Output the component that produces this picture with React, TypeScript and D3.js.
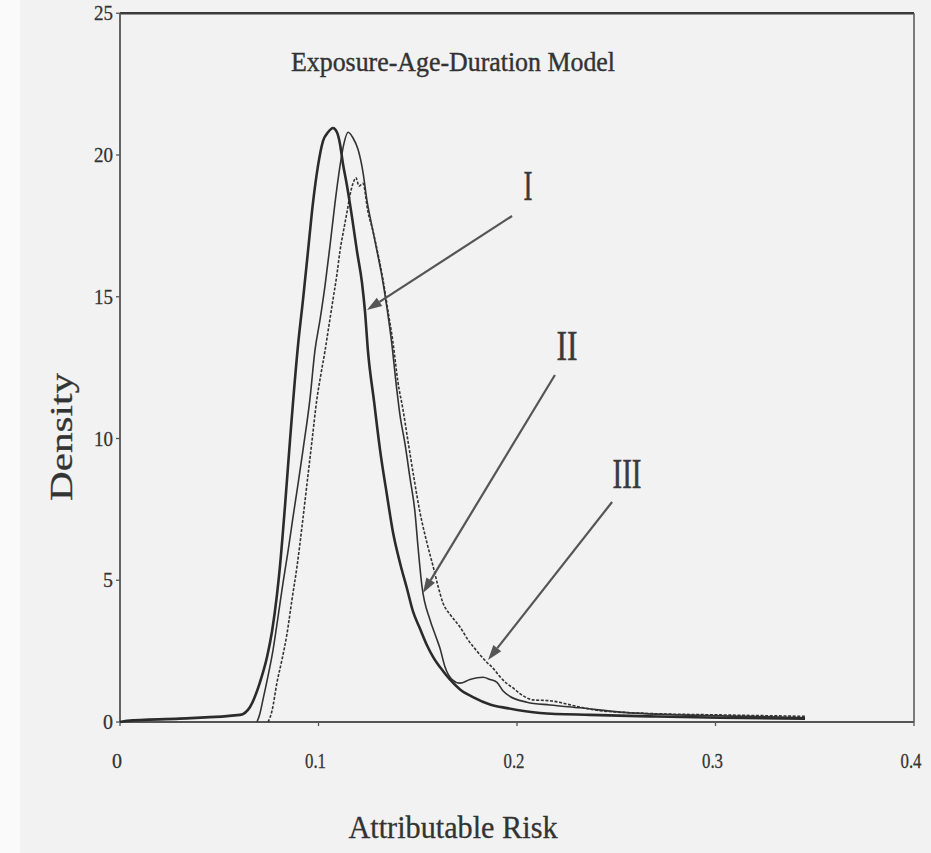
import React from "react";
import * as d3 from "d3";

// Attributable risk (x) and density (y)
const riskI = [0, 0.0035, 0.030, 0.0605, 0.0655, 0.0705, 0.0741, 0.0766, 0.0791, 0.0806, 0.0831, 0.0856, 0.0897, 0.0922, 0.0947, 0.0972, 0.0997, 0.1023, 0.1048, 0.1073, 0.1093, 0.1108, 0.1123, 0.1144, 0.1169, 0.1194, 0.1219, 0.1234, 0.1249, 0.128, 0.131, 0.1345, 0.1375, 0.1411, 0.1446, 0.1476, 0.1511, 0.1547, 0.1577, 0.1627, 0.1662, 0.1713, 0.1778, 0.1864, 0.195, 0.2116, 0.2368, 0.267, 0.3023, 0.3451];
const densI = [0, 0.04, 0.12, 0.25, 0.53, 1.4, 2.3, 3.2, 4.5, 5.5, 7.6, 9.9, 13.3, 14.9, 16.6, 18.3, 19.6, 20.5, 20.8, 20.95, 20.8, 20.4, 19.7, 18.9, 17.8, 16.6, 15.5, 14.5, 13.1, 11.3, 9.6, 8.0, 6.7, 5.6, 4.7, 3.9, 3.3, 2.7, 2.3, 1.8, 1.5, 1.15, 0.88, 0.62, 0.49, 0.32, 0.25, 0.2, 0.15, 0.12];

const riskII = [0.069, 0.0705, 0.072, 0.0745, 0.077, 0.0796, 0.0821, 0.0846, 0.0871, 0.0897, 0.0922, 0.0957, 0.0982, 0.1008, 0.1033, 0.1058, 0.1083, 0.1108, 0.1128, 0.1149, 0.1174, 0.1199, 0.1224, 0.1244, 0.1269, 0.1295, 0.132, 0.1345, 0.137, 0.139, 0.1411, 0.1436, 0.1461, 0.1486, 0.1501, 0.1521, 0.1562, 0.1592, 0.1612, 0.1637, 0.1673, 0.1713, 0.1763, 0.1829, 0.1864, 0.1899, 0.1929, 0.1965, 0.2050, 0.2166, 0.2317, 0.2519, 0.2821, 0.3174, 0.3451];
const densII = [0, 0.3, 0.78, 1.6, 2.5, 3.7, 4.9, 6.0, 7.2, 8.4, 9.6, 11.4, 13.1, 14.2, 15.4, 16.8, 18.3, 19.6, 20.4, 20.8, 20.6, 20.2, 19.4, 18.4, 17.5, 16.6, 15.7, 14.6, 13.3, 12.0, 10.8, 9.8, 8.6, 7.4, 6.2, 4.8, 3.6, 3.0, 2.6, 1.95, 1.5, 1.37, 1.5, 1.58, 1.5, 1.4, 1.1, 0.9, 0.7, 0.6, 0.5, 0.35, 0.25, 0.2, 0.15];

const riskIII = [0.0746, 0.0766, 0.0791, 0.0816, 0.0841, 0.0866, 0.0892, 0.0917, 0.0942, 0.0967, 0.0992, 0.1013, 0.1033, 0.1053, 0.1073, 0.1093, 0.1108, 0.1128, 0.1144, 0.1159, 0.1174, 0.1189, 0.1204, 0.1224, 0.1249, 0.1275, 0.13, 0.1325, 0.135, 0.1375, 0.14, 0.1426, 0.1451, 0.1481, 0.1511, 0.1547, 0.1577, 0.1602, 0.1627, 0.1662, 0.1713, 0.1753, 0.1798, 0.1849, 0.1879, 0.1914, 0.1950, 0.1980, 0.2015, 0.2081, 0.2166, 0.2302, 0.2418, 0.267, 0.3023, 0.3451];
const densIII = [0, 0.4, 1.4, 2.2, 3.1, 4.3, 5.5, 6.9, 8.4, 9.9, 11.4, 12.3, 13.1, 14.0, 14.9, 15.8, 16.6, 17.4, 18.0, 18.6, 19.0, 19.2, 18.9, 19.0, 18.0, 17.3, 16.5, 15.6, 14.5, 13.4, 12.0, 11.0, 9.9, 8.6, 7.4, 6.3, 5.5, 4.8, 4.2, 3.8, 3.35, 2.9, 2.5, 2.1, 1.9, 1.6, 1.35, 1.2, 1.0, 0.78, 0.75, 0.55, 0.4, 0.3, 0.25, 0.2];

const xTicks = [0, 0.1, 0.2, 0.3, 0.4];
const xTickLabels = ["0", "0.1", "0.2", "0.3", "0.4"];
const yTicks = [0, 5, 10, 15, 20, 25];
const yTickLabels = ["0", "5", "10", "15", "20", "25"];

const labelNames = ["I", "II", "III"];
const labelRisk = [0.2055, 0.2252, 0.2554];
const labelDens = [18.94, 13.3, 8.78];
const arrowFromRisk = [0.1975, 0.2191, 0.2479];
const arrowFromDens = [17.85, 12.24, 7.76];
const arrowToRisk = [0.1244, 0.1526, 0.1854];
const arrowToDens = [14.53, 4.55, 2.19];

const title = "Exposure-Age-Duration Model";
const xTitle = "Attributable Risk";
const yTitle = "Density";

export default function App() {
  const W = 931, H = 853;
  const x = d3.scaleLinear().domain([0, 0.4]).range([120, 914]);
  const y = d3.scaleLinear().domain([0, 25]).range([722, 13.25]);
  const line = d3
    .line<[number, number]>()
    .x((d) => x(d[0]))
    .y((d) => y(d[1]))
    .curve(d3.curveMonotoneX);
  const pI = line(riskI.map((r, i) => [r, densI[i]]) as [number, number][]) || "";
  const pII = line(riskII.map((r, i) => [r, densII[i]]) as [number, number][]) || "";
  const pIII = line(riskIII.map((r, i) => [r, densIII[i]]) as [number, number][]) || "";
  const font = "'Liberation Serif', 'DejaVu Serif', serif";
  const ink = "#2b2b2b";
  const widths = [9, 21, 29];
  const tickW = [10, 10, 19, 19, 19, 19];

  return (
    <svg
      width={W}
      height={H}
      style={{ position: "absolute", left: 0, top: 0 }}
      xmlns="http://www.w3.org/2000/svg"
    >
      <rect x={0} y={0} width={W} height={H} fill="#f2f2f2" />
      <rect x={0} y={0} width={20} height={H} fill="#fafafa" />
      {/* frame */}
      <line x1={x(0)} x2={x(0.4)} y1={y(25)} y2={y(25)} stroke="#3a3a3a" strokeWidth={2.4} />
      <line x1={x(0.4)} x2={x(0.4)} y1={y(25)} y2={y(0)} stroke="#555" strokeWidth={1.5} />
      <line x1={x(0)} x2={x(0)} y1={y(25)} y2={y(0)} stroke="#555" strokeWidth={1.8} />
      <line x1={x(0)} x2={x(0.4)} y1={y(0)} y2={y(0)} stroke="#555" strokeWidth={1.8} />
      {/* y ticks */}
      {yTicks.map((t, i) => (
        <g key={"y" + i}>
          <line x1={x(0) - 4} x2={x(0)} y1={y(t)} y2={y(t)} stroke="#555" strokeWidth={1.3} />
          <text
            x={x(0) - 7}
            y={y(t)}
            textAnchor="end"
            dominantBaseline="central"
            fontFamily={font}
            fontSize={21}
            fill="#333"
            stroke="#333"
            strokeWidth={0.3}
            textLength={tickW[i]}
            lengthAdjust="spacingAndGlyphs"
          >
            {yTickLabels[i]}
          </text>
        </g>
      ))}
      {/* x ticks */}
      {xTicks.map((t, i) => (
        <g key={"x" + i}>
          <line x1={x(t)} x2={x(t)} y1={y(0)} y2={y(0) + 4} stroke="#555" strokeWidth={1.3} />
          <text
            x={x(t) - 3}
            y={y(0) + 46}
            textAnchor="middle"
            fontFamily={font}
            fontSize={21}
            fill="#333"
            stroke="#333"
            strokeWidth={0.3}
            textLength={i === 0 ? 10 : 21}
            lengthAdjust="spacingAndGlyphs"
          >
            {xTickLabels[i]}
          </text>
        </g>
      ))}
      {/* curves */}
      <path d={pIII} fill="none" stroke="#333" strokeWidth={1.6} strokeDasharray="3,1.6" />
      <path d={pII} fill="none" stroke="#333" strokeWidth={1.6} />
      <path d={pI} fill="none" stroke={ink} strokeWidth={2.6} />
      {/* arrows */}
      {labelNames.map((n, i) => {
        const x1 = x(arrowFromRisk[i]), y1 = y(arrowFromDens[i]);
        const x2 = x(arrowToRisk[i]), y2 = y(arrowToDens[i]);
        const ang = Math.atan2(y2 - y1, x2 - x1);
        const L = 15, hw = 5;
        const bx = x2 - L * Math.cos(ang), by = y2 - L * Math.sin(ang);
        const px = -Math.sin(ang), py = Math.cos(ang);
        const tri = `${x2},${y2} ${bx + hw * px},${by + hw * py} ${bx - hw * px},${by - hw * py}`;
        return (
          <g key={"a" + i}>
            <line x1={x1} y1={y1} x2={bx} y2={by} stroke="#555" strokeWidth={2.2} />
            <polygon points={tri} fill="#555" />
            <text
              x={x(labelRisk[i])}
              y={y(labelDens[i]) + 15}
              textAnchor="middle"
              fontFamily={font}
              fontSize={42}
              fill="#3a3a3a"
              stroke="#3a3a3a"
              strokeWidth={0.6}
              textLength={widths[i]}
              lengthAdjust="spacingAndGlyphs"
            >
              {n}
            </text>
          </g>
        );
      })}
      {/* titles */}
      <text
        x={453}
        y={71}
        textAnchor="middle"
        fontFamily={font}
        fontSize={27}
        fill="#333"
        stroke="#333"
        strokeWidth={0.4}
        textLength={324}
        lengthAdjust="spacingAndGlyphs"
      >
        {title}
      </text>
      <text
        x={453}
        y={838}
        textAnchor="middle"
        fontFamily={font}
        fontSize={32}
        fill="#333"
        stroke="#333"
        strokeWidth={0.3}
        textLength={209}
        lengthAdjust="spacingAndGlyphs"
      >
        {xTitle}
      </text>
      <text
        transform="translate(72,437) rotate(-90)"
        textAnchor="middle"
        fontFamily={font}
        fontSize={32}
        fill="#333"
        stroke="#333"
        strokeWidth={0.3}
        textLength={128}
        lengthAdjust="spacingAndGlyphs"
      >
        {yTitle}
      </text>
    </svg>
  );
}
